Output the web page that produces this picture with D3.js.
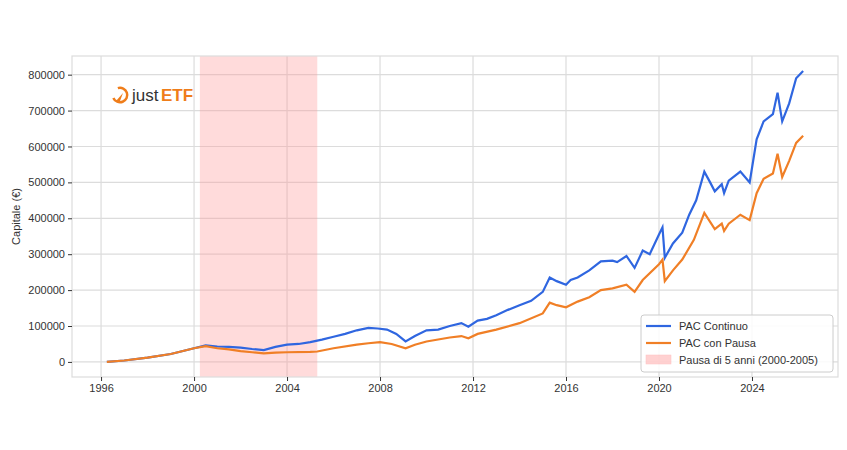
<!DOCTYPE html><html><head><meta charset="utf-8"><script src="https://cdn.jsdelivr.net/npm/d3@7"></script>
<style>body{margin:0;background:#fff}text{font-family:"Liberation Sans",Arial,sans-serif}</style></head><body><svg id="c" width="847" height="450"></svg>
<script>
const xTicks=[1996,2000,2004,2008,2012,2016,2020,2024];
const yTicks=[0,100000,200000,300000,400000,500000,600000,700000,800000];
const pause=[2000.25,2005.3];
const contT=[1996.25,1997,1998,1999,2000,2000.5,2001,2001.5,2002,2002.5,2003,2003.5,2004,2004.5,2005,2005.5,2006,2006.5,2007,2007.5,2007.9,2008.3,2008.7,2009.1,2009.5,2010,2010.5,2011,2011.5,2011.8,2012.2,2012.6,2013,2013.5,2014,2014.5,2015,2015.3,2015.6,2016,2016.2,2016.5,2017,2017.5,2018,2018.2,2018.6,2018.95,2019.3,2019.6,2020,2020.15,2020.25,2020.6,2021,2021.3,2021.6,2021.95,2022.2,2022.4,2022.7,2022.8,2023,2023.5,2023.9,2024.2,2024.5,2024.9,2025.1,2025.3,2025.6,2025.9,2026.2];
const contV=[0,4,12,22,38,46,43,42,40,36,33,42,48,50,55,62,70,78,88,95,93,90,78,57,72,88,90,100,108,98,115,120,130,145,158,170,195,235,225,215,228,235,255,280,282,278,295,262,310,300,355,375,290,330,360,410,450,530,500,475,495,470,505,530,500,620,670,690,750,670,720,790,810].map(v=>v*1000);
const pauseT=[1996.25,1997,1998,1999,2000,2000.5,2001,2001.5,2002,2002.5,2003,2003.5,2004,2005,2005.3,2006,2007,2007.5,2008,2008.5,2009.1,2009.5,2010,2011,2011.5,2011.8,2012.2,2013,2014,2015,2015.3,2015.6,2016,2016.5,2017,2017.5,2018,2018.6,2018.95,2019.3,2020,2020.15,2020.25,2020.6,2021,2021.5,2021.95,2022.4,2022.7,2022.8,2023,2023.5,2023.9,2024.2,2024.5,2024.9,2025.1,2025.3,2025.6,2025.9,2026.2];
const pauseV=[0,4,12,22,38,44,38,35,30,27,24,26,27,28,29,38,48,52,55,50,38,48,57,68,72,66,78,90,108,135,165,158,152,168,180,200,205,215,195,228,272,285,225,255,285,340,415,370,385,365,385,410,395,470,510,525,580,515,560,610,630].map(v=>v*1000);

const svg=d3.select("#c");
const L=72,R=838,T=56,B=377;
const x=d3.scaleLinear().domain([1994.75,2027.7]).range([L,R]);
const y=d3.scaleLinear().domain([-42000,852000]).range([B,T]);
const g=svg.append("g");
g.append("g").selectAll("line").data(xTicks).join("line").attr("x1",d=>x(d)).attr("x2",d=>x(d)).attr("y1",T).attr("y2",B).attr("stroke","#dcdcdc").attr("stroke-width",1.2);
g.append("g").selectAll("line").data(yTicks).join("line").attr("x1",L).attr("x2",R).attr("y1",d=>y(d)).attr("y2",d=>y(d)).attr("stroke","#dcdcdc").attr("stroke-width",1.2);
g.append("rect").attr("x",x(pause[0])).attr("width",x(pause[1])-x(pause[0])).attr("y",T).attr("height",B-T).attr("fill","#ff9999").attr("opacity",0.35);
g.append("rect").attr("x",L).attr("y",T).attr("width",R-L).attr("height",B-T).attr("fill","none").attr("stroke","#dcdcdc").attr("stroke-width",1.2);
const ax=svg.append("g").attr("transform",`translate(0,${B})`).call(d3.axisBottom(x).tickValues(xTicks).tickFormat(d3.format("d")).tickSize(4));
const ay=svg.append("g").attr("transform",`translate(${L},0)`).call(d3.axisLeft(y).tickValues(yTicks).tickFormat(d3.format("d")).tickSize(4));
[ax,ay].forEach(a=>{a.select(".domain").remove();a.selectAll("line").attr("stroke","#333");a.selectAll("text").attr("font-size",11).attr("fill","#333").attr("font-family","Liberation Sans, Arial")});
svg.append("text").attr("transform",`translate(20,${(T+B)/2}) rotate(-90)`).attr("text-anchor","middle").attr("font-size",11).attr("fill","#333").text("Capitale (€)");
const line=d3.line().x(d=>x(d[0])).y(d=>y(d[1])).curve(d3.curveLinear);
svg.append("path").datum(contT.map((t,i)=>[t,contV[i]])).attr("d",line).attr("fill","none").attr("stroke","#2f66e0").attr("stroke-width",2.2);
svg.append("path").datum(pauseT.map((t,i)=>[t,pauseV[i]])).attr("d",line).attr("fill","none").attr("stroke","#f07f26").attr("stroke-width",2.2);
// logo
const lg=svg.append("g").attr("transform","translate(110,85)");
lg.append("path").attr("d",d3.arc()({innerRadius:6,outerRadius:8.5,startAngle:-0.3,endAngle:4.3})).attr("transform","translate(10,10)").attr("fill","#ef7d1a");
lg.append("path").attr("d","M6,16 L13,8 L10,16 Z").attr("fill","#ef7d1a");
lg.append("text").attr("x",22).attr("y",16).attr("font-size",17).attr("fill","#333").text("just");
lg.append("text").attr("x",51).attr("y",16).attr("font-size",17).attr("font-weight","bold").attr("fill","#ef7d1a").text("ETF");
// legend
const leg=svg.append("g").attr("transform","translate(641,315)");
leg.append("rect").attr("width",192).attr("height",57).attr("rx",3).attr("fill","#fff").attr("fill-opacity",0.85).attr("stroke","#ccc");
const items=[["PAC Continuo","#2f66e0","l"],["PAC con Pausa","#f07f26","l"],["Pausa di 5 anni (2000-2005)","#ffb3b3","r"]];
items.forEach((it,i)=>{const yy=11+i*17;
 if(it[2]=="l")leg.append("line").attr("x1",5).attr("x2",30).attr("y1",yy).attr("y2",yy).attr("stroke",it[1]).attr("stroke-width",2.2);
 else leg.append("rect").attr("x",5).attr("y",yy-5).attr("width",25).attr("height",9).attr("fill",it[1]).attr("opacity",0.6).attr("stroke","#ff9999").attr("stroke-width",0.5);
 leg.append("text").attr("x",38).attr("y",yy+4).attr("font-size",11).attr("fill","#333").text(it[0]);});
</script></body></html>
